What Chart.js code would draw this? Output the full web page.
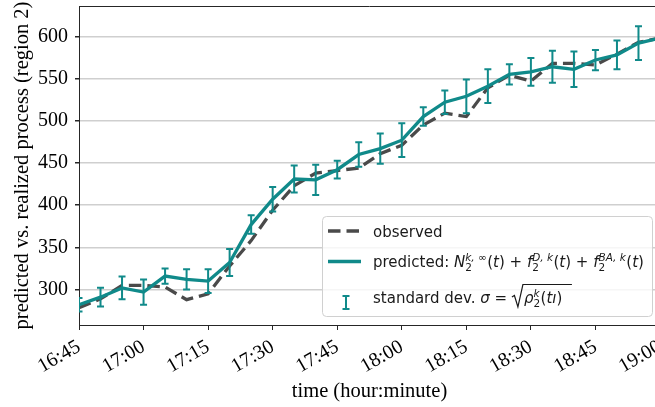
<!DOCTYPE html>
<html>
<head>
<meta charset="utf-8">
<script src="https://cdn.jsdelivr.net/npm/chart.js@4.4.1/dist/chart.umd.min.js"></script>
<style>
  html, body { margin: 0; padding: 0; background: #fff; overflow: hidden; }
  #wrap { width: 655px; height: 407px; overflow: hidden; }
  canvas { display: block; }
</style>
</head>
<body>
<div id="wrap"><canvas id="c" width="665" height="407" style="width:665px;height:407px"></canvas></div>
<script>
// time of day, every 5 minutes
var times = ['16:45','16:50','16:55','17:00','17:05','17:10','17:15','17:20','17:25','17:30',
             '17:35','17:40','17:45','17:50','17:55','18:00','18:05','18:10','18:15','18:20',
             '18:25','18:30','18:35','18:40','18:45','18:50','18:55','19:00'];
var observed = [278.5, 289, 305, 305, 303, 288, 295, 328, 358, 394,
                423, 438, 441, 444, 461, 471, 495, 509, 505, 539,
                554, 547, 568, 568, 566, 579, 593, 598];
var predicted = [282, 291, 302, 297, 316, 312, 310, 332, 377, 407,
                 431, 430, 442, 460, 467, 477, 505, 522, 529, 541,
                 555, 558, 564, 561, 572, 578, 592, 598];
var stdDev = [8, 11, 13.5, 15, 9, 12, 14, 16, 11, 14.5,
              16, 18, 10.5, 14.5, 18, 20, 11, 14, 20, 20,
              12, 16.5, 19, 21, 12, 17, 20, 18];
var xTicks = ['16:45','17:00','17:15','17:30','17:45','18:00','18:15','18:30','18:45','19:00'];
var yTicks = [300, 350, 400, 450, 500, 550, 600];

var TEAL = '#108a8a';
var GREY = '#4a4a4a';

function toMin(s) {
    var p = s.split(':');
    return (+p[0]) * 60 + (+p[1]) - (16 * 60 + 45);
}
function toLabel(m) {
    var t = m + 16 * 60 + 45;
    var h = Math.floor(t / 60), mm = t % 60;
    return h + ':' + (mm < 10 ? '0' : '') + mm;
}
function pts(arr) {
    return arr.map(function(v, i) { return {x: toMin(times[i]), y: v}; });
}

// error bars + top spine
var errorBars = {
    id: 'errorBars',
    afterDatasetsDraw: function(chart) {
        var ctx = chart.ctx, xs = chart.scales.x, ys = chart.scales.y;
        var a = chart.chartArea;
        ctx.save();
        ctx.beginPath();
        ctx.rect(a.left, a.top - 5, a.right - a.left, a.bottom - a.top + 10);
        ctx.clip();
        ctx.strokeStyle = TEAL;
        ctx.lineWidth = 2;
        for (var i = 0; i < times.length; i++) {
            var x = xs.getPixelForValue(toMin(times[i]));
            var y1 = ys.getPixelForValue(predicted[i] + stdDev[i]);
            var y2 = ys.getPixelForValue(predicted[i] - stdDev[i]);
            ctx.beginPath();
            ctx.moveTo(x, y1); ctx.lineTo(x, y2);
            ctx.moveTo(x - 3.5, y1); ctx.lineTo(x + 3.5, y1);
            ctx.moveTo(x - 3.5, y2); ctx.lineTo(x + 3.5, y2);
            ctx.stroke();
        }
        ctx.restore();
        ctx.save();
        ctx.strokeStyle = '#262626';
        ctx.lineWidth = 1;
        ctx.beginPath();
        ctx.moveTo(a.left, a.top + 0.5);
        ctx.lineTo(a.right, a.top + 0.5);
        ctx.lineTo(a.right, a.bottom);
        ctx.stroke();
        ctx.restore();
    }
};

function drawMath(ctx, x, y, parts) {
    for (var i = 0; i < parts.length; i++) {
        var p = parts[i];
        if (p.sub !== undefined || p.sup !== undefined) {
            var w = 0;
            if (p.sub !== undefined) {
                ctx.font = '10.5px "DejaVu Sans"';
                ctx.fillText(p.sub, x, y + 3.5);
                w = ctx.measureText(p.sub).width;
            }
            if (p.sup !== undefined) {
                ctx.font = 'italic 10.5px "DejaVu Sans"';
                ctx.fillText(p.sup, x, y - 6);
                w = Math.max(w, ctx.measureText(p.sup).width);
            }
            x += w + 0.5;
        } else if (p.sqrt) {
            ctx.save();
            ctx.strokeStyle = '#1a1a1a';
            ctx.lineWidth = 1.2;
            ctx.beginPath();
            ctx.moveTo(x, y - 6);
            ctx.lineTo(x + 2.5, y - 7.5);
            ctx.lineTo(x + 6, y + 4);
            ctx.lineTo(x + 11, y - 18.5);
            ctx.lineTo(x + p.sqrt, y - 18.5);
            ctx.stroke();
            ctx.restore();
            x += 12;
        } else {
            ctx.font = (p.it ? 'italic ' : '') + '15px "DejaVu Sans"';
            ctx.fillText(p.t, x, y);
            x += ctx.measureText(p.t).width;
        }
    }
    return x;
}

var legendBox = {
    id: 'legendBox',
    afterDraw: function(chart) {
        var ctx = chart.ctx;
        var bx = 322.5, by = 216.5, bw = 330, bh = 100, r = 4;
        ctx.save();
        ctx.beginPath();
        ctx.moveTo(bx + r, by);
        ctx.arcTo(bx + bw, by, bx + bw, by + bh, r);
        ctx.arcTo(bx + bw, by + bh, bx, by + bh, r);
        ctx.arcTo(bx, by + bh, bx, by, r);
        ctx.arcTo(bx, by, bx + bw, by, r);
        ctx.closePath();
        ctx.fillStyle = 'rgba(255,255,255,0.8)';
        ctx.fill();
        ctx.strokeStyle = '#d0d0d0';
        ctx.lineWidth = 1;
        ctx.stroke();

        // handles
        ctx.lineWidth = 3.3;
        ctx.strokeStyle = GREY;
        ctx.setLineDash([12.5, 6]);
        ctx.beginPath(); ctx.moveTo(328, 231); ctx.lineTo(361, 231); ctx.stroke();
        ctx.setLineDash([]);
        ctx.strokeStyle = TEAL;
        ctx.beginPath(); ctx.moveTo(328, 261.5); ctx.lineTo(361, 261.5); ctx.stroke();
        ctx.lineWidth = 2;
        ctx.beginPath();
        ctx.moveTo(346, 296); ctx.lineTo(346, 309);
        ctx.moveTo(342.5, 296); ctx.lineTo(349.5, 296);
        ctx.moveTo(342.5, 309); ctx.lineTo(349.5, 309);
        ctx.stroke();

        ctx.fillStyle = '#1a1a1a';
        ctx.textBaseline = 'alphabetic';
        drawMath(ctx, 373, 236.5, [{t: 'observed'}]);
        drawMath(ctx, 373, 267, [
            {t: 'predicted: '}, {t: 'N', it: true}, {sub: '2', sup: 'k, \u221e'},
            {t: '(', }, {t: 't', it: true}, {t: ')'}, {t: ' + '},
            {t: 'f', it: true}, {sub: '2', sup: 'D, k'},
            {t: '('}, {t: 't', it: true}, {t: ')'}, {t: ' + '},
            {t: 'f', it: true}, {sub: '2', sup: 'BA, k'},
            {t: '('}, {t: 't', it: true}, {t: ')'}
        ]);
        drawMath(ctx, 373, 303, [
            {t: 'standard dev. '}, {t: '\u03c3', it: true}, {t: ' = '},
            {sqrt: 60}, {t: '\u03c1', it: true}, {sub: '2', sup: 'k'},
            {t: '('}, {t: 't\u0131', it: true}, {t: ')'}
        ]);
        ctx.restore();
    }
};

var serif = '"Liberation Serif", "Times New Roman", serif';

new Chart(document.getElementById('c'), {
    type: 'line',
    data: {
        datasets: [
            {
                label: 'predicted',
                data: pts(predicted),
                borderColor: TEAL,
                borderWidth: 3.3,
                pointRadius: 0,
                tension: 0,
                fill: false
            },
            {
                label: 'observed',
                data: pts(observed),
                borderColor: GREY,
                borderWidth: 3.3,
                borderDash: [12.5, 6],
                pointRadius: 0,
                tension: 0,
                fill: false
            }
        ]
    },
    options: {
        responsive: false,
        animation: false,
        layout: { padding: { top: 6, right: 5, left: 0, bottom: 0 } },
        plugins: { legend: { display: false }, tooltip: { enabled: false } },
        scales: {
            x: {
                type: 'linear',
                min: 0,
                max: 135,
                afterBuildTicks: function(s) {
                    s.ticks = xTicks.map(function(t) { return {value: toMin(t)}; });
                },
                afterFit: function(s) {
                    s.height = 82;
                    s.paddingLeft = 0; s.paddingRight = 0;
                },
                ticks: {
                    minRotation: 30, maxRotation: 30,
                    padding: 5,
                    color: '#000',
                    font: { family: serif, size: 20 },
                    callback: function(v) { return toLabel(v); }
                },
                grid: { drawOnChartArea: false, drawTicks: true, tickLength: 5, tickColor: '#262626' },
                border: { display: true, color: '#262626', width: 1 },
                title: {
                    display: true,
                    text: 'time (hour:minute)',
                    color: '#000',
                    font: { family: serif, size: 20.5 },
                    padding: { top: 0, bottom: 3 }
                }
            },
            y: {
                type: 'linear',
                min: 258,
                max: 636,
                afterBuildTicks: function(s) {
                    s.ticks = yTicks.map(function(v) { return {value: v}; });
                },
                afterFit: function(s) {
                    s.width = 79;
                    s.paddingTop = 0; s.paddingBottom = 0;
                },
                ticks: {
                    padding: 7,
                    color: '#000',
                    font: { family: serif, size: 20 }
                },
                grid: { color: '#cfcfcf', lineWidth: 1.5, tickLength: 4, tickColor: '#262626' },
                border: { display: true, color: '#262626', width: 1 },
                title: {
                    display: true,
                    text: 'predicted vs. realized process (region 2)',
                    color: '#000',
                    font: { family: serif, size: 20.5 },
                    padding: { top: 10, bottom: 0 }
                }
            }
        }
    },
    plugins: [errorBars, legendBox]
});
</script>
</body>
</html>
